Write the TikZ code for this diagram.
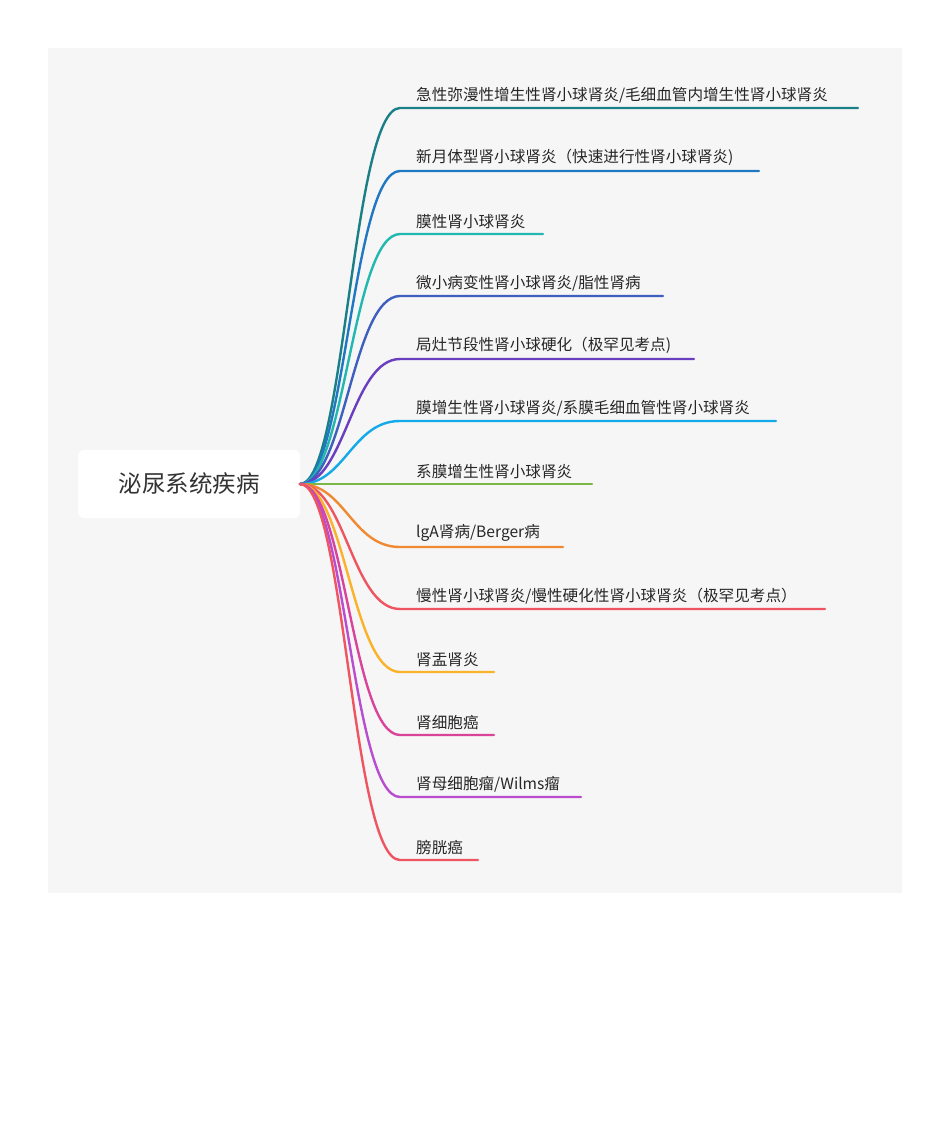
\documentclass[tikz,border=0pt]{standalone}
\usepackage{fontspec}
\setmainfont{Noto Sans CJK SC}
\begin{document}
\begin{tikzpicture}[x=1pt,y=-1pt,
  br/.style={line width=2.4pt,line cap=round},
  lab/.style={anchor=south west,inner sep=0pt,font=\fontsize{15.6}{18}\selectfont,text=black!85}]
\useasboundingbox (0,0) rectangle (950,1141);
\fill[black!3.5] (48,48) rectangle (902,893);
\node[fill=white,rounded corners=6pt,minimum width=222pt,minimum height=68pt,font=\fontsize{23.5}{27}\selectfont,text=black!80] (root) at (189,484) {泌尿系统疾病};
\coordinate (o) at (300,484);
\foreach \i/\y/\e/\c/\t in {
 1/108/858/1A7F86/{急性弥漫性增生性肾小球肾炎/毛细血管内增生性肾小球肾炎},
 2/171/759/1F78C1/{新月体型肾小球肾炎（快速进行性肾小球肾炎)},
 3/234/543/21B8B0/{膜性肾小球肾炎},
 4/296/663/3F5FBF/{微小病变性肾小球肾炎/脂性肾病},
 5/359/694/6A3FBF/{局灶节段性肾小球硬化（极罕见考点)},
 6/421/776/14A9E8/{膜增生性肾小球肾炎/系膜毛细血管性肾小球肾炎},
 7/484/592/7AB648/{系膜增生性肾小球肾炎},
 8/547/563/F08A32/{lgA肾病/Berger病},
 9/609/825/EF5560/{慢性肾小球肾炎/慢性硬化性肾小球肾炎（极罕见考点）},
 10/672/494/F9B22A/{肾盂肾炎},
 11/735/494/D9449A/{肾细胞癌},
 12/797/581/B84ECF/{肾母细胞瘤/Wilms瘤},
 13/860/478/EF5560/{膀胱癌}} {
  \definecolor{c\i}{HTML}{\c}
  \coordinate (k\i) at (400,\y);
  \coordinate (e\i) at (\e,\y);
  \draw[br,color=c\i] (o) .. controls (345,484) and (352,\y) .. (k\i) -- (e\i);
  \node[lab] (t\i) at (416,\y-5) {\t};
}
\end{tikzpicture}
\end{document}
